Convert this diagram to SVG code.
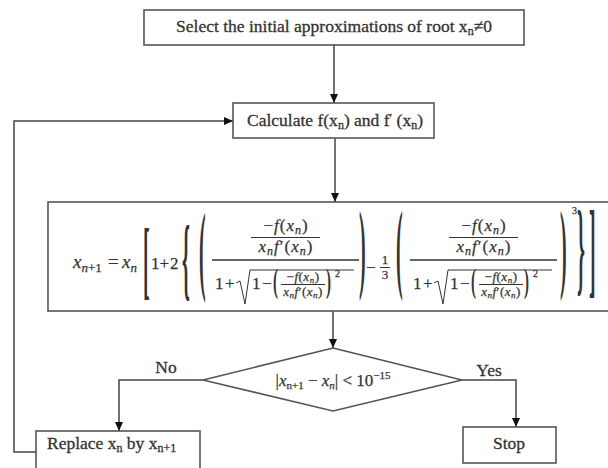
<svg xmlns="http://www.w3.org/2000/svg" width="608" height="468" viewBox="0 0 608 468">
<defs>
<marker id="arr" markerUnits="userSpaceOnUse" markerWidth="9" markerHeight="8" refX="9" refY="4" orient="auto">
<path d="M0,0 L9,4 L0,8 z" fill="#111"/>
</marker>
<style>
.box{fill:#fff;stroke:#555;stroke-width:1.6}
.t{font-family:"Liberation Serif","DejaVu Serif",serif;fill:#333;stroke:#333;stroke-width:0.3;font-size:17.5px}
.m{font-family:"Liberation Serif","DejaVu Serif",serif;fill:#333;stroke:#333;stroke-width:0.25}
.i{font-style:italic}
.d{font-weight:bold;stroke:none}
.ls{letter-spacing:1px}
.conn{fill:none;stroke:#444;stroke-width:1.5}
.bar{fill:none;stroke:#333;stroke-width:1.3}
.rad{fill:none;stroke:#333;stroke-width:1}
</style>
</defs>
<rect width="608" height="468" fill="#fff"/>

<g id="connectors">
<path class="conn" d="M334,45 V103" marker-end="url(#arr)"/>
<path class="conn" d="M335,138 V202" marker-end="url(#arr)"/>
<path class="conn" d="M333,311 V348" marker-end="url(#arr)"/>
<path class="conn" d="M203,380 H119 V431" marker-end="url(#arr)"/>
<path class="conn" d="M462,380 H516 V427" marker-end="url(#arr)"/>
<path class="conn" d="M36,452 H14 V121 H233" marker-end="url(#arr)"/>
<text class="t" x="166" y="373" text-anchor="middle">No</text>
<text class="t" x="489" y="376" text-anchor="middle">Yes</text>
</g>

<g id="start">
<rect class="box" x="144" y="10" width="380" height="35"/>
<text class="t" x="334" y="32" text-anchor="middle">Select the initial approximations  of root x<tspan font-size="12" dy="3">n</tspan><tspan dy="-3">≠0</tspan></text>
</g>

<g id="calculate">
<rect class="box" x="233" y="103" width="201" height="35"/>
<text class="t" x="335" y="126" text-anchor="middle">Calculate f(x<tspan font-size="12" dy="3">n</tspan><tspan dy="-3">) and f</tspan><tspan dy="-4" font-size="12">′</tspan><tspan dy="4"> (x</tspan><tspan font-size="12" dy="3">n</tspan><tspan dy="-3">)</tspan></text>
</g>

<g id="formula" class="m">
<rect class="box" x="48" y="202" width="570" height="109"/>
<text y="268" font-size="19"><tspan x="73" class="i">x</tspan><tspan class="i" font-size="13" dy="4">n</tspan><tspan font-size="13">+1</tspan><tspan x="108" dy="-4">=</tspan><tspan x="122" class="i">x</tspan><tspan class="i" font-size="13" dy="4">n</tspan></text>
<text class="d" transform="translate(143,287.5) scale(1,4.3)" font-size="20">[</text>
<text y="269" font-size="17"><tspan x="151">1</tspan><tspan x="159.5">+</tspan><tspan x="170">2</tspan></text>
<text class="d" transform="translate(182,288) scale(1,4.6)" font-size="20">{</text>
<text class="d" transform="translate(199,282) scale(1,5.0)" font-size="20">(</text>

<g transform="translate(212,0)">
<text class="ls" x="74" y="231" text-anchor="middle" font-size="17">−<tspan class="i">f</tspan>(<tspan class="i">x</tspan><tspan class="i" font-size="12" dy="3">n</tspan><tspan dy="-3">)</tspan></text>
<path class="rad" d="M39,237.5 H108"/>
<text class="ls" x="74" y="252" text-anchor="middle" font-size="17"><tspan class="i">x</tspan><tspan class="i" font-size="12" dy="3">n</tspan><tspan class="i" dy="-3">f</tspan>′(<tspan class="i">x</tspan><tspan class="i" font-size="12" dy="3">n</tspan><tspan dy="-3">)</tspan></text>
<path class="bar" d="M0,260 H147"/>
<text y="289" font-size="17"><tspan x="3">1</tspan><tspan x="13">+</tspan></text>
<path class="rad" d="M24,283 L28,281 L33,304 L38,270 H142"/>
<text y="289" font-size="17"><tspan x="40">1</tspan><tspan x="50">−</tspan></text>
<text class="d" transform="translate(61,292) scale(1,2.2)" font-size="15">(</text>
<text x="91" y="281" text-anchor="middle" font-size="13" style="letter-spacing:0.5px">−<tspan class="i">f</tspan>(<tspan class="i">x</tspan><tspan class="i" font-size="9" dy="2">n</tspan><tspan dy="-2">)</tspan></text>
<path class="rad" d="M69,284.5 H113"/>
<text x="91" y="296" text-anchor="middle" font-size="13" style="letter-spacing:0.5px"><tspan class="i">x</tspan><tspan class="i" font-size="9" dy="2">n</tspan><tspan class="i" dy="-2">f</tspan>′(<tspan class="i">x</tspan><tspan class="i" font-size="9" dy="2">n</tspan><tspan dy="-2">)</tspan></text>
<text class="d" transform="translate(114,292) scale(1,2.2)" font-size="15">)</text>
<text x="123" y="277" font-size="10">2</text>
</g>

<text class="d" transform="translate(359,280) scale(1,5.0)" font-size="20">)</text>
<text x="366" y="273" font-size="17">−</text>
<text x="385" y="264" text-anchor="middle" font-size="13">1</text>
<path class="rad" d="M380,267.5 H390"/>
<text x="385" y="279" text-anchor="middle" font-size="13">3</text>
<text class="d" transform="translate(396,280) scale(1,5.0)" font-size="20">(</text>

<g transform="translate(410,0)">
<text class="ls" x="74" y="231" text-anchor="middle" font-size="17">−<tspan class="i">f</tspan>(<tspan class="i">x</tspan><tspan class="i" font-size="12" dy="3">n</tspan><tspan dy="-3">)</tspan></text>
<path class="rad" d="M39,237.5 H108"/>
<text class="ls" x="74" y="252" text-anchor="middle" font-size="17"><tspan class="i">x</tspan><tspan class="i" font-size="12" dy="3">n</tspan><tspan class="i" dy="-3">f</tspan>′(<tspan class="i">x</tspan><tspan class="i" font-size="12" dy="3">n</tspan><tspan dy="-3">)</tspan></text>
<path class="bar" d="M0,260 H147"/>
<text y="289" font-size="17"><tspan x="3">1</tspan><tspan x="13">+</tspan></text>
<path class="rad" d="M24,283 L28,281 L33,304 L38,270 H142"/>
<text y="289" font-size="17"><tspan x="40">1</tspan><tspan x="50">−</tspan></text>
<text class="d" transform="translate(61,292) scale(1,2.2)" font-size="15">(</text>
<text x="91" y="281" text-anchor="middle" font-size="13" style="letter-spacing:0.5px">−<tspan class="i">f</tspan>(<tspan class="i">x</tspan><tspan class="i" font-size="9" dy="2">n</tspan><tspan dy="-2">)</tspan></text>
<path class="rad" d="M69,284.5 H113"/>
<text x="91" y="296" text-anchor="middle" font-size="13" style="letter-spacing:0.5px"><tspan class="i">x</tspan><tspan class="i" font-size="9" dy="2">n</tspan><tspan class="i" dy="-2">f</tspan>′(<tspan class="i">x</tspan><tspan class="i" font-size="9" dy="2">n</tspan><tspan dy="-2">)</tspan></text>
<text class="d" transform="translate(114,292) scale(1,2.2)" font-size="15">)</text>
<text x="123" y="277" font-size="10">2</text>
</g>

<text class="d" transform="translate(560,280) scale(1,5.0)" font-size="20">)</text>
<text x="572" y="214" font-size="10">3</text>
<text class="d" transform="translate(577,281.5) scale(1,5.2)" font-size="20">}</text>
<text class="d" transform="translate(589,283.5) scale(1,5.3)" font-size="20">]</text>
</g>

<g id="decision">
<path class="box" d="M333,348 L462,380 L333,411 L203,380 Z"/>
<text class="m" x="333" y="386" text-anchor="middle" font-size="17">|<tspan class="i">x</tspan><tspan font-size="11" dy="3">n+1</tspan><tspan dy="-3"> − </tspan><tspan class="i">x</tspan><tspan class="i" font-size="11" dy="3">n</tspan><tspan dy="-3">| &lt; 10</tspan><tspan font-size="11" dy="-7">−15</tspan></text>
</g>

<g id="replace">
<rect class="box" x="36" y="431" width="164" height="45"/>
<text class="t" x="47" y="449">Replace x<tspan font-size="12" dy="3">n</tspan><tspan dy="-3"> by x</tspan><tspan font-size="12" dy="3">n+1</tspan></text>
</g>

<g id="stop">
<rect class="box" x="463" y="427" width="93" height="36"/>
<text class="t" x="509" y="449" text-anchor="middle">Stop</text>
</g>
</svg>
